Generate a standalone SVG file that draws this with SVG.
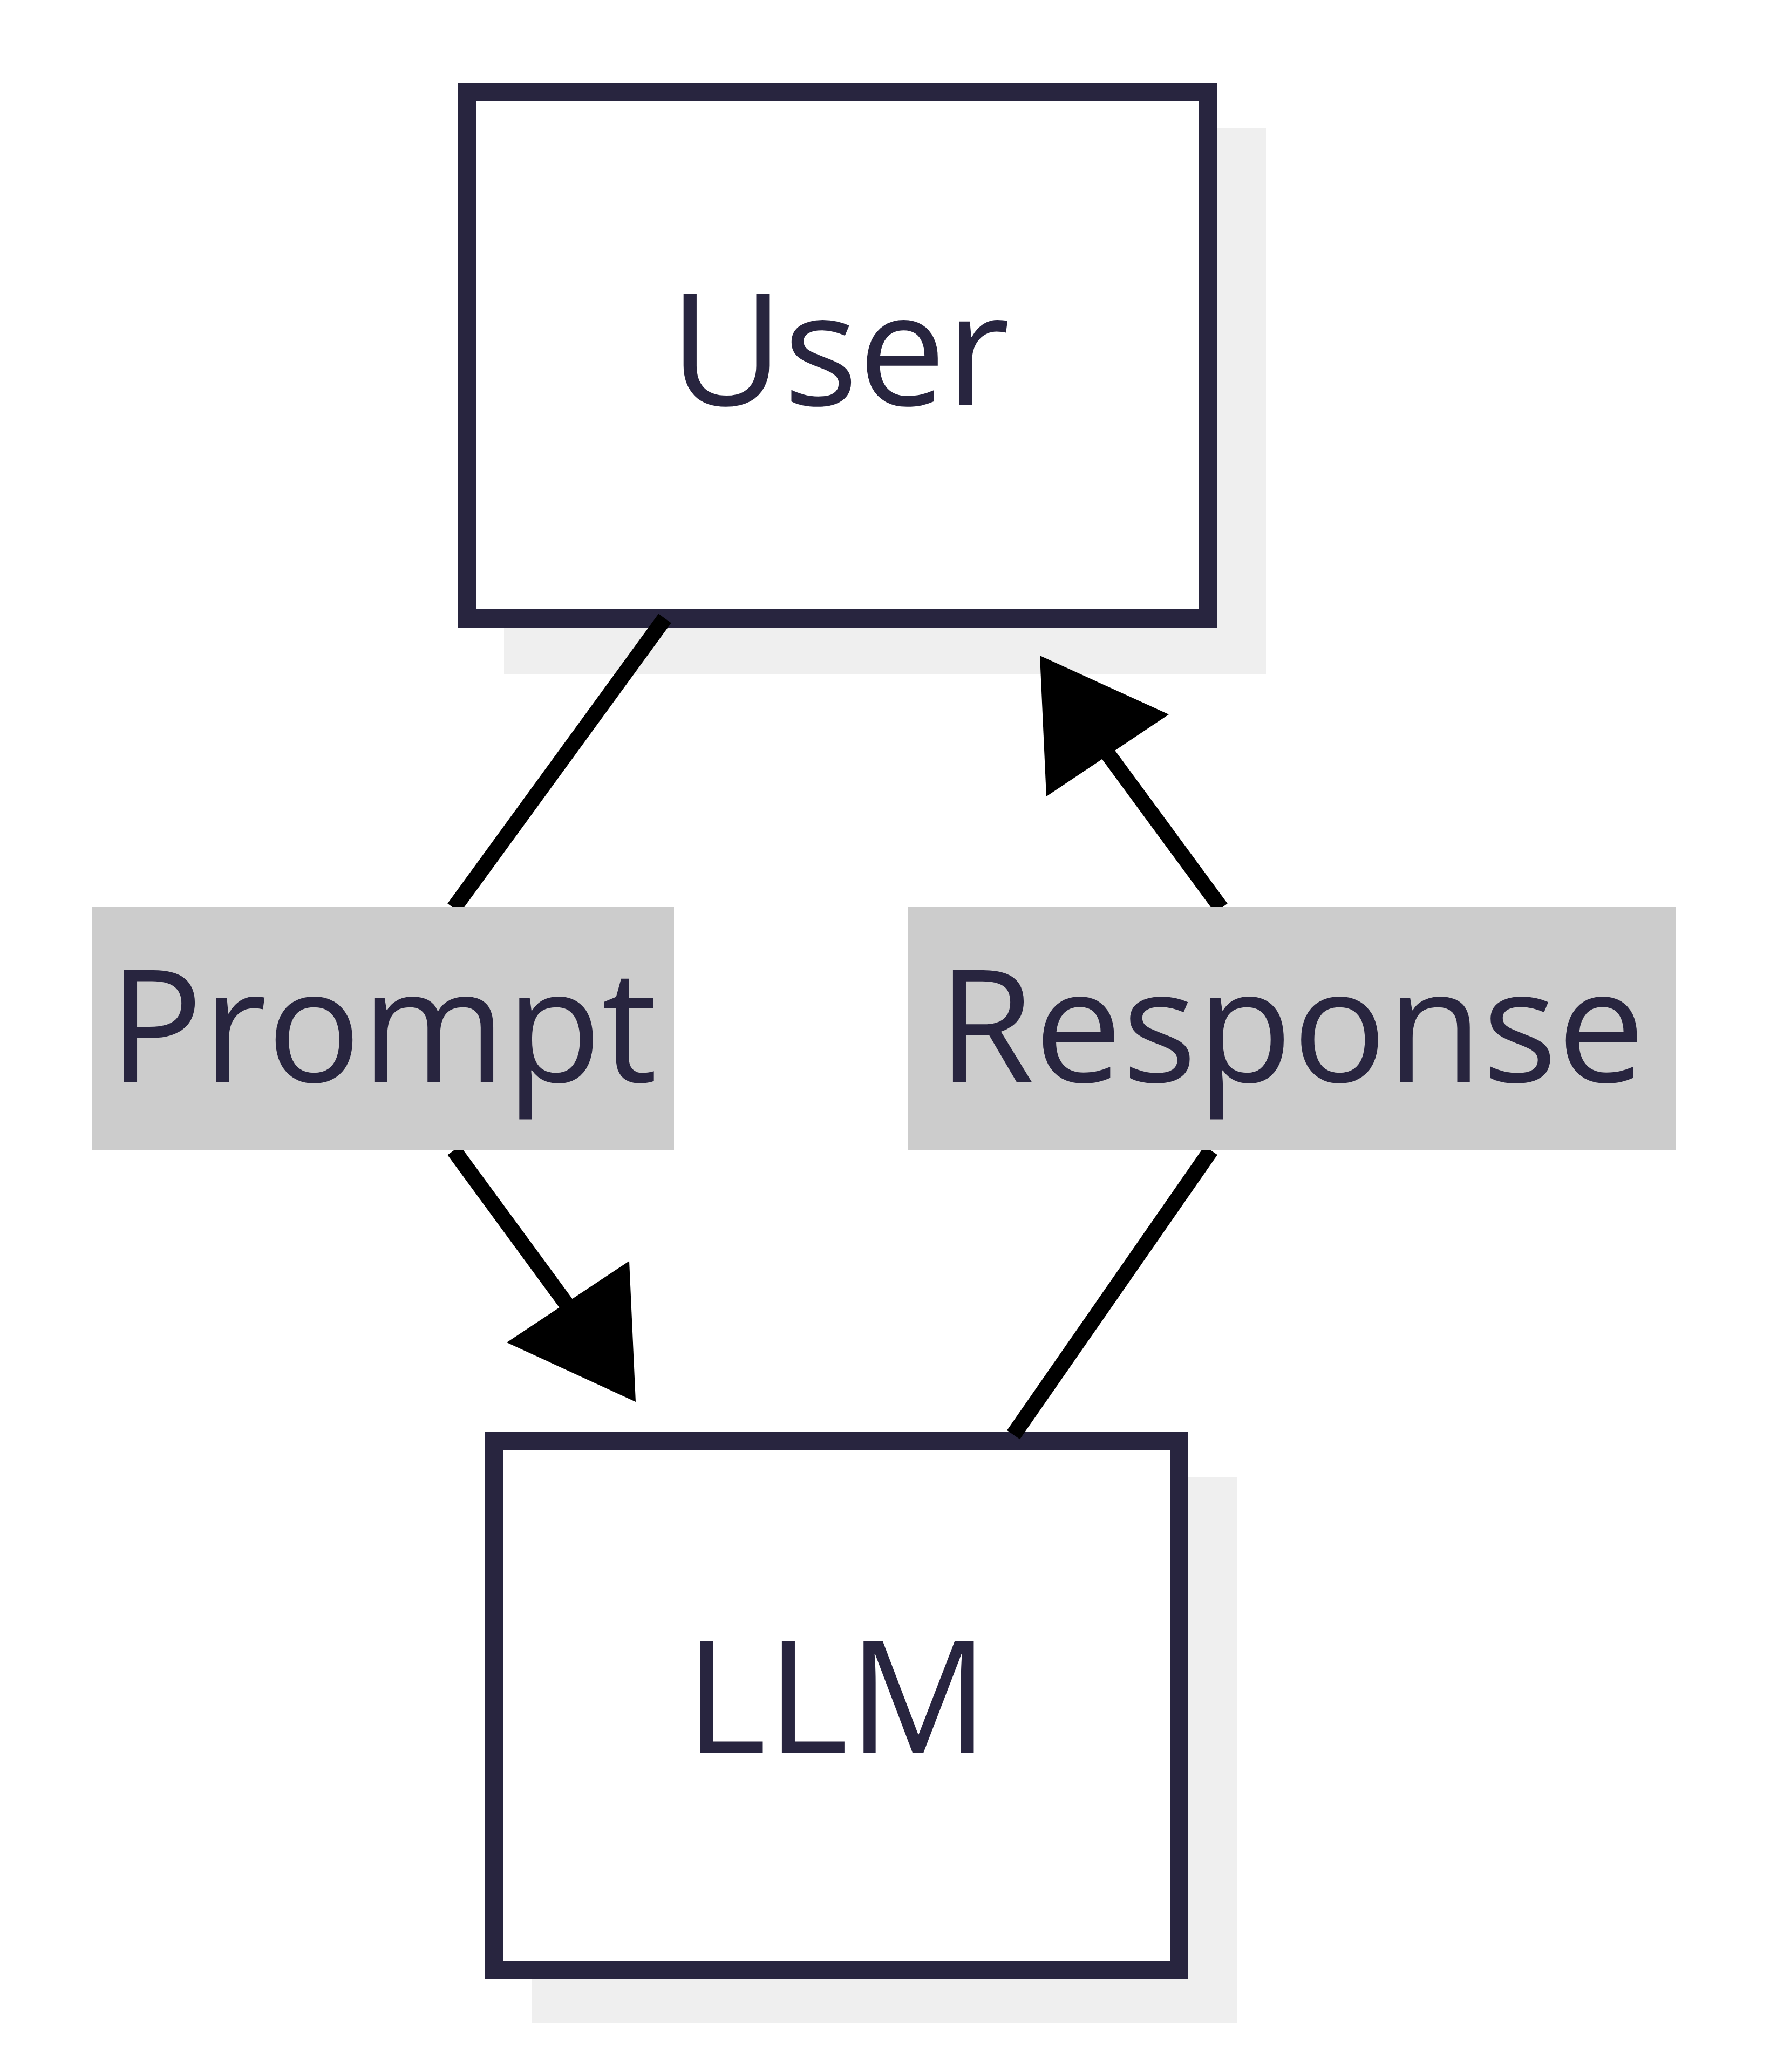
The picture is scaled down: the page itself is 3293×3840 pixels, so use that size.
<svg xmlns="http://www.w3.org/2000/svg" width="3293" height="3840" viewBox="0 0 3293 3840">
<style>
.box{fill:#fff;stroke:#28253f;stroke-width:34}
.sh{fill:#efefef}
.lbl{fill:#cccccc}
.t{font-family:"Open Sans","Liberation Sans",sans-serif;font-size:290px;fill:#28253f;text-anchor:middle}
.e{stroke:#000;stroke-width:29;fill:none}
</style>
<rect width="3293" height="3840" fill="#fff"/>
<g id="User">
<rect class="sh" x="934" y="237" width="1412" height="1012"/>
<rect class="box" x="866" y="171" width="1373" height="975"/>
<text class="t" x="1556" y="751">User</text>
</g>
<g id="LLM">
<rect class="sh" x="985" y="2737" width="1308" height="1012"/>
<rect class="box" x="915" y="2671" width="1270" height="980"/>
<text class="t" x="1551" y="3249">LLM</text>
</g>
<g id="connectors">
<path class="e" d="M1232,1146 L841,1683"/>
<path class="e" d="M841,2132 L1066,2439"/>
<polygon points="939,2488 1166,2337 1178,2598" fill="#000"/>
<path class="e" d="M1878,2659 L2244,2132"/>
<path class="e" d="M2263,1683 L2044,1385"/>
<polygon points="2166,1324 1939,1476 1927,1215" fill="#000"/>
<rect class="lbl" x="171" y="1681" width="1078" height="451"/>
<text class="t" x="710" y="2005">Prompt</text>
<rect class="lbl" x="1683" y="1681" width="1422" height="451"/>
<text class="t" x="2393" y="2005">Response</text>
</g>
</svg>
